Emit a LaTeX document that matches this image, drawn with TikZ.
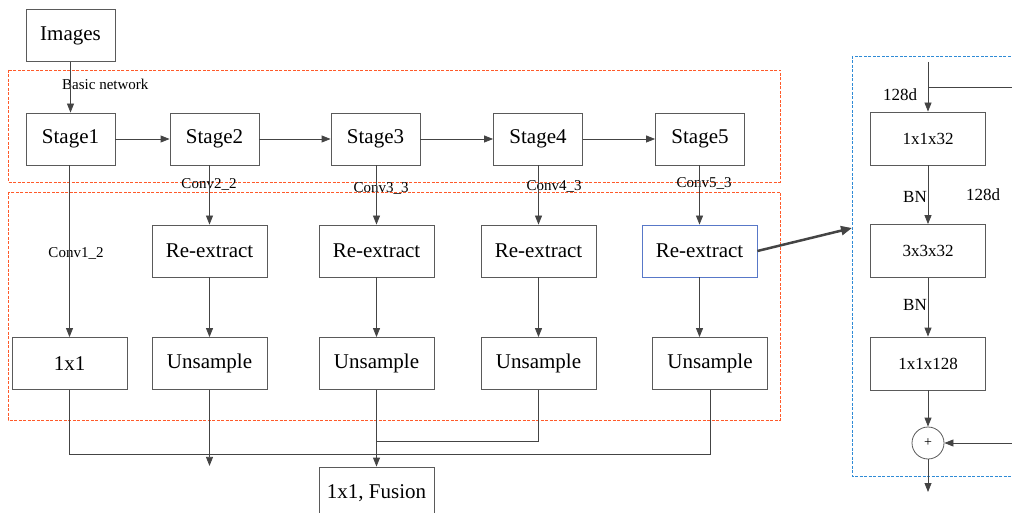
\documentclass[tikz,border=0pt]{standalone}
\usepackage{fontspec}
\setmainfont{Liberation Serif}
\usetikzlibrary{arrows.meta}
\definecolor{linecolor}{HTML}{444444}
\definecolor{boxcolor}{HTML}{5A5A5A}
\definecolor{redframe}{HTML}{FF5A2A}
\definecolor{blueframe}{HTML}{2F8BD6}
\definecolor{bluebox}{HTML}{5878C8}
\tikzset{
  block/.style={draw=boxcolor, thick, rectangle, inner sep=0pt, minimum width=89pt, minimum height=52pt, font=\fontsize{21}{24}\selectfont},
  wideblock/.style={block, minimum width=115pt},
  smallblock/.style={block, minimum width=115pt, minimum height=53pt, font=\fontsize{17}{20}\selectfont},
  lbl/.style={font=\fontsize{15}{18}\selectfont, inner sep=0pt},
  sidelbl/.style={font=\fontsize{17}{20}\selectfont, inner sep=0pt},
  frame/.style={draw=#1, thick, dash pattern=on 3pt off 1.5pt},
  flow/.style={draw=linecolor, thick, -{Triangle[length=9pt,width=7pt]}},
  wire/.style={draw=linecolor, thick}
}
\begin{document}
\begin{tikzpicture}[x=1pt, y=-1pt]%
\useasboundingbox (0,0) rectangle (1012,513);%
\clip (0,0) rectangle (1012,513);%
% frames
\draw[frame=redframe] (8,70) rectangle (780,182);%
\draw[frame=redframe] (8,192) rectangle (780,420);%
\draw[frame=blueframe] (852,56) rectangle (1040,476);%
% basic network
\node[block] (images) at (70.5,35.5) {Images};%
\node[block] (stage1) at (70.5,139) {Stage1};%
\node[block] (stage2) at (214.5,139) {Stage2};%
\node[block] (stage3) at (375.5,139) {Stage3};%
\node[block] (stage4) at (538,139) {Stage4};%
\node[block] (stage5) at (700,139) {Stage5};%
\node[lbl, anchor=west] (basic) at (62,84) {Basic network};%
% re-extract and upsampling
\node[wideblock] (re2) at (209.5,251) {Re-extract};%
\node[wideblock] (re3) at (376.5,251) {Re-extract};%
\node[wideblock] (re4) at (538.5,251) {Re-extract};%
\node[wideblock, draw=bluebox] (re5) at (699.5,251) {Re-extract};%
\node[wideblock] (conv1) at (69.5,363.5) {1x1};%
\node[wideblock] (up2) at (209.5,363.5) {Unsample};%
\node[wideblock] (up3) at (376.5,363.5) {Unsample};%
\node[wideblock] (up4) at (538.5,363.5) {Unsample};%
\node[wideblock] (up5) at (710,363.5) {Unsample};%
\node[wideblock] (fusion) at (376.5,493) {1x1, Fusion};%
\node[lbl] (c12) at (76,254) {Conv1\_2};%
\node[lbl] (c22) at (209,185) {Conv2\_2};%
\node[lbl] (c33) at (381,189) {Conv3\_3};%
\node[lbl] (c43) at (554,187) {Conv4\_3};%
\node[lbl] (c53) at (704,184) {Conv5\_3};%
% residual block
\node[smallblock] (b1) at (928,138.5) {1x1x32};%
\node[smallblock] (b2) at (928,251) {3x3x32};%
\node[smallblock] (b3) at (928,363.5) {1x1x128};%
\node[draw=boxcolor, thick, circle, minimum size=32pt, inner sep=0pt, font=\fontsize{14}{16}\selectfont] (plus) at (928,443) {+};%
\node[sidelbl] (d1) at (900,95) {128d};%
\node[sidelbl] (d2) at (983,195) {128d};%
\node[sidelbl, anchor=east] (bn1) at (927,197) {BN};%
\node[sidelbl, anchor=east] (bn2) at (927,305) {BN};%
\coordinate (rtop) at (928,62);%
\coordinate (rbranch) at (928,87);%
\coordinate (rright) at (1020,87);%
\coordinate (rin) at (1020,443);%
\coordinate (rout) at (928,492);%
\coordinate (rleft) at (852,228);%
% connectors
\draw[flow] (images) -- (stage1);%
\foreach \a/\b in {stage1/stage2, stage2/stage3, stage3/stage4, stage4/stage5}
  \draw[flow] (\a) -- (\b);%
\draw[flow] (stage1.south -| conv1) -- (conv1.north);%
\foreach \s/\r in {stage2/re2, stage3/re3, stage4/re4, stage5/re5}
  \draw[flow] (\r.north |- \s.south) -- (\r.north);%
\foreach \r/\u in {re2/up2, re3/up3, re4/up4}
  \draw[flow] (\r) -- (\u);%
\draw[flow] (re5.south) -- (re5.south |- up5.north);%
\draw[flow] (up2.south) -- ++(0,76);%
\draw[wire] (conv1.south) -- (conv1.south |- 0,454) -| (up5.south);%
\draw[wire] (up3.south |- 0,441) -| (up4.south);%
\draw[flow] (up3.south) -- (fusion.north);%
\draw[draw=linecolor, line width=2.5pt, -{Triangle[length=11pt,width=9pt]}] (re5.east) -- (rleft);%
\draw[flow] (rtop) -- (b1.north);%
\draw[wire] (rbranch) -- (rright);%
\draw[flow] (b1) -- (b2);%
\draw[flow] (b2) -- (b3);%
\draw[flow] (b3) -- (plus);%
\draw[flow] (rin) -- (plus.east);%
\draw[flow] (plus.south) -- (rout);%
\end{tikzpicture}
\end{document}
